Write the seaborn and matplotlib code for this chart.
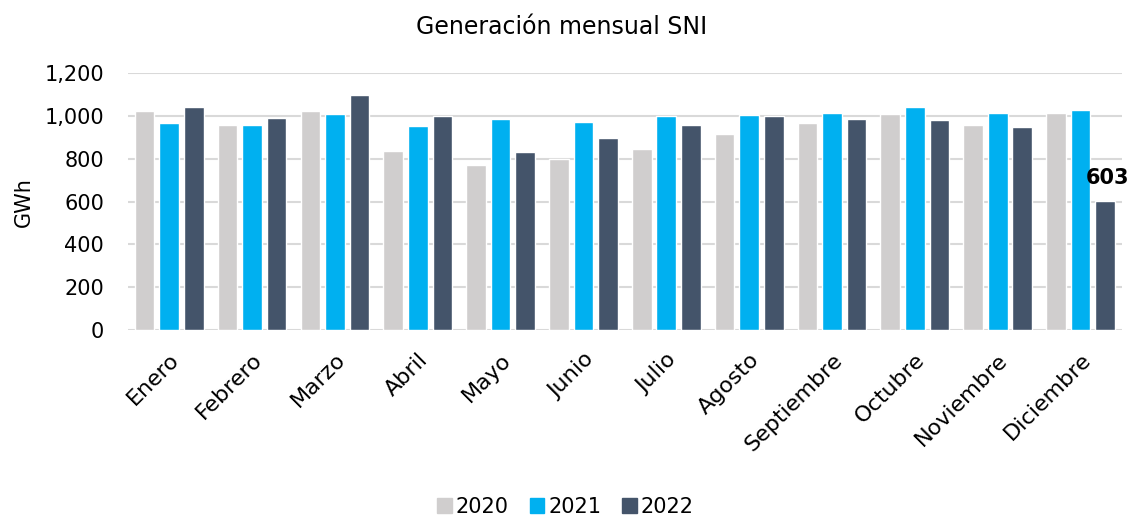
import matplotlib
matplotlib.use("Agg")
import matplotlib.pyplot as plt
import seaborn as sns
import pandas as pd
from matplotlib.ticker import FuncFormatter
from matplotlib.patches import Patch

months = ["Enero", "Febrero", "Marzo", "Abril", "Mayo", "Junio", "Julio",
          "Agosto", "Septiembre", "Octubre", "Noviembre", "Diciembre"]
years = ["2020", "2021", "2022"]
v2020 = [1024, 960, 1022, 836, 770, 798, 846, 918, 966, 1008, 956, 1012]
v2021 = [965, 959, 1010, 951, 984, 974, 998, 1004, 1012, 1041, 1013, 1030]
v2022 = [1043, 991, 1096, 1000, 830, 895, 960, 998, 985, 979, 948, 603]
colors = ["#D0CECE", "#00B0F0", "#44546A"]

rows = []
for y, vals in zip(years, [v2020, v2021, v2022]):
    for m, v in zip(months, vals):
        rows.append({"Mes": m, "Año": y, "GWh": v})
df = pd.DataFrame(rows)

sns.set_theme(style="white")
plt.rcParams["font.family"] = ["DejaVu Sans"]
plt.rcParams["text.color"] = "black"
plt.rcParams["axes.labelcolor"] = "black"

fig = plt.figure(figsize=(11.31, 5.19), dpi=100)
ax = fig.add_axes([0.113, 0.364, 0.879, 0.495])
sns.barplot(data=df, x="Mes", y="GWh", hue="Año", order=months, hue_order=years,
            palette=colors, width=0.89, gap=0.2, ax=ax, legend=False,
            saturation=1, zorder=3)

ax.set_ylim(0, 1200)
ax.set_yticks(range(0, 1201, 200))
ax.yaxis.set_major_formatter(FuncFormatter(lambda v, p: f"{int(v):,}"))
ax.grid(axis="y", color="#D9D9D9", linewidth=1.5, zorder=0)
ax.set_axisbelow(True)
for s in ax.spines.values():
    s.set_visible(False)
ax.set_xlim(-0.5, 11.5)
ax.tick_params(axis="y", labelsize=15, length=0, pad=17, colors="black")
ax.tick_params(axis="x", labelsize=16, length=0, pad=14, colors="black")
plt.setp(ax.get_xticklabels(), rotation=45, ha="right", rotation_mode="anchor")
ax.set_xlabel("")
ax.set_ylabel("GWh", fontsize=15, labelpad=8, color="black")
fig.suptitle("Generación mensual SNI", fontsize=17, x=0.497, y=0.948,
             va="center", color="black")

# annotation of last value
last = ax.containers[2][11]
ax.annotate(f"{v2022[11]}", (last.get_x() + last.get_width() / 2, v2022[11]),
            xytext=(2, 9), textcoords="offset points", ha="center", va="bottom",
            fontsize=15, fontweight="bold", color="black")

handles = [Patch(color=c, label=y) for c, y in zip(colors, years)]
leg = fig.legend(handles=handles, loc="lower center", ncol=3, frameon=False,
                 fontsize=15, bbox_to_anchor=(0.5, -0.032), handlelength=0.7,
                 handleheight=0.7, handletextpad=0.2, columnspacing=1.0)
for t in leg.get_texts():
    t.set_color("black")

fig.savefig("out.png", dpi=100)
